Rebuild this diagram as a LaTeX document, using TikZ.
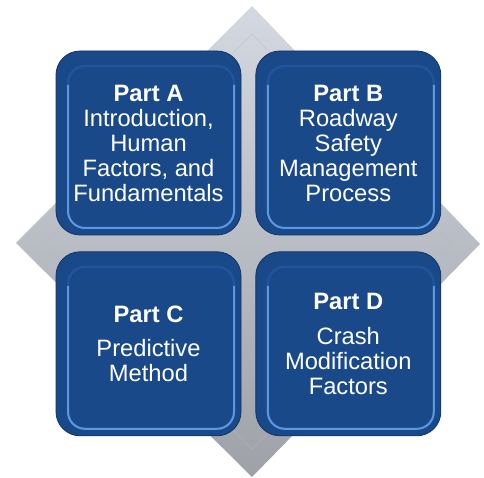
\documentclass[tikz,border=0pt]{standalone}
\usepackage{fontspec}
\setmainfont{Liberation Sans}
\usetikzlibrary{positioning}

\definecolor{partblue}{RGB}{26,73,138}
\definecolor{partedge}{RGB}{16,52,104}
\definecolor{bevelmid}{RGB}{34,84,155}
\definecolor{bevellight}{RGB}{92,152,224}
\definecolor{diatop}{RGB}{212,216,224}
\definecolor{diabot}{RGB}{158,161,168}
\definecolor{diainner}{RGB}{182,186,194}

\tikzset{
  partbox/.style={rectangle, rounded corners=24pt, minimum width=185pt,
    minimum height=184pt, fill=partblue, draw=partedge, line width=0.8pt,
    text=white, align=center, font=\fontsize{23.7}{25}\selectfont,
    path picture={
      \draw [bevelmid, line width=2.4pt, rounded corners=17pt]
        ([shift={(12pt,-15pt)}]path picture bounding box.north west) rectangle
        ([shift={(-7pt,7pt)}]path picture bounding box.south east);
      \draw [bevellight, line width=2pt, rounded corners=17pt]
        ([shift={(12pt,-34pt)}]path picture bounding box.north west) |-
        ([shift={(-7pt,7pt)}]path picture bounding box.south east) --
        ([shift={(-7pt,-34pt)}]path picture bounding box.north east);
    }}
}

\begin{document}
\begin{tikzpicture}[x=1pt,y=1pt]
\tikzstyle{every node}+=[inner sep=0pt]
\useasboundingbox (0,0) rectangle (484,-478);
% grey diamond behind the four parts
\shade [top color=diatop, bottom color=diabot] (16,-243) -- (252,-6) -- (480,-244) -- (252,-477) -- cycle;
\draw [diainner, line width=0.5pt, opacity=0.6] (44,-243) -- (252,-34) -- (452,-244) -- (252,-449) -- cycle;
\node [partbox] (partA) at (148.5,-143) {\textbf{Part A}\\Introduction,\\Human\\Factors, and\\Fundamentals};
\node [partbox, right=14pt of partA] (partB) {\textbf{Part B}\\Roadway\\Safety\\Management\\Process};
\node [partbox, below=16pt of partA] (partC) {\textbf{Part C}\\[9pt]Predictive\\Method};
\node [partbox, right=14pt of partC] (partD) {\textbf{Part D}\\[10pt]Crash\\Modification\\Factors};
\end{tikzpicture}
\end{document}
